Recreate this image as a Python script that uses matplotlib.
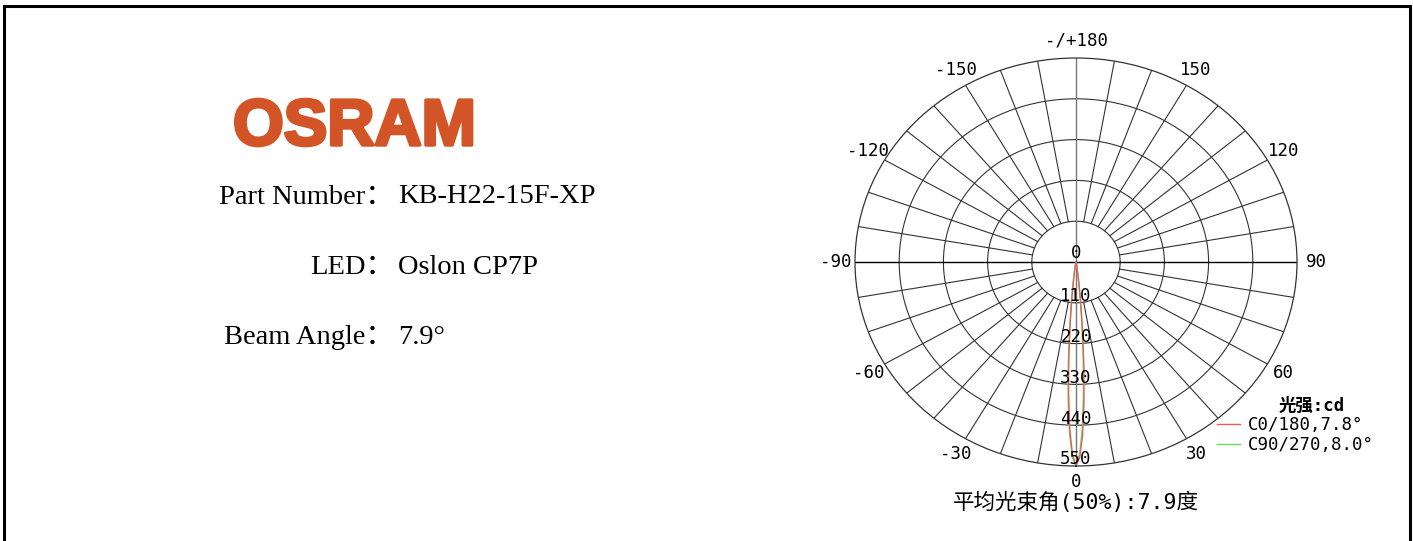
import numpy as np
import matplotlib
matplotlib.use("Agg")
import matplotlib.pyplot as plt
import matplotlib.patheffects as pe
from matplotlib.patches import Rectangle

# polar curve data (angle in degrees, intensity in cd)
angles = [-12, -10, -8, -7, -6, -5, -4, -3, -2, -1, 0,
          1, 2, 3, 4, 5, 6, 7, 8, 10, 12]
c0_180 = [3, 8, 28, 55, 100, 165, 255, 352, 448, 518, 548,
          528, 468, 380, 282, 190, 118, 66, 34, 10, 3]
c90_270 = [3, 10, 34, 64, 114, 182, 276, 374, 462, 526, 550,
           518, 450, 356, 256, 168, 100, 55, 27, 8, 3]

ring_values = [110, 220, 330, 440, 550]
angle_labels = {0: "0", 30: "30", 60: "60", 90: "90", 120: "120", 150: "150",
                180: "-/+180", -30: "-30", -60: "-60", -90: "-90",
                -120: "-120", -150: "-150"}
series_names = ["C0/180,7.8°", "C90/270,8.0°"]
series_colors = ["#e06060", "#66dd55"]
info_labels = ["Part Number：", "LED：", "Beam Angle："]
info_values = ["KB-H22-15F-XP", "Oslon CP7P", "7.9°"]

W, H = 1413, 541
fig = plt.figure(figsize=(W / 100, H / 100), dpi=100)

def fx(px):
    return px / W

def fy(py):
    return 1 - py / H

# frame around the page
fig.patches.append(Rectangle((fx(4), fy(560)), fx(1406), (560 - 6) / H,
                             transform=fig.transFigure, fill=False,
                             edgecolor="black", linewidth=2.2))

# left info block
logo_color = "#d35426"
fig.text(fx(233), fy(128), "OSRAM", color=logo_color, fontsize=47,
         fontweight="bold", family="Liberation Sans", ha="left", va="center",
         path_effects=[pe.withStroke(linewidth=2.5, foreground=logo_color)])
serif = ["Liberation Serif", "Noto Sans CJK SC"]
for i, (lab, val) in enumerate(zip(info_labels, info_values)):
    y = fy(197 + 70 * i)
    fig.text(fx(394), y, lab, fontsize=20.5, family=serif, ha="right", va="center")
    fig.text(fx(398), y, val, fontsize=20.5, family=serif, ha="left", va="center")

# polar plot
mono = ["DejaVu Sans Mono", "Noto Sans CJK SC"]
fs = 12.5
ax = fig.add_axes([fx(855), fy(466), fx(442), 408 / H], projection="polar")
ax.set_aspect("auto")
ax.set_theta_zero_location("S")
ax.set_theta_direction(1)
ax.set_ylim(0, 550)
ax.grid(False)
ax.set_xticks([])
ax.set_yticks([])
ax.spines["polar"].set_linewidth(0.9)
ax.spines["polar"].set_color("#333333")

theta_full = np.linspace(0, 2 * np.pi, 400)
for rv in ring_values[:-1]:
    ax.plot(theta_full, np.full_like(theta_full, rv), color="#333333", lw=0.8)

for deg in range(0, 360, 10):
    t = np.deg2rad(deg)
    if deg in (90, 270):
        ax.plot([t, t], [0, 550], color="black", lw=1.0)
    elif deg in (0, 180):
        ax.plot([t, t], [0, 550], color="#777777", lw=1.0)
    else:
        ax.plot([t, t], [110, 550], color="#333333", lw=0.8)

th = np.deg2rad(angles)
ax.plot(th, c90_270, color=series_colors[1], lw=1.0, label=series_names[1])
ax.plot(th, c0_180, color=series_colors[0], lw=1.0, label=series_names[0])

# radial labels along the 0 axis
ax.text(0, 0, "0", fontsize=fs, family=mono, ha="center", va="bottom")
for rv in ring_values:
    ax.text(0, rv - 18, str(rv), fontsize=fs, family=mono,
            ha="center", va="center")

# angle labels
for deg, lab in angle_labels.items():
    r = 592 if deg == 0 else 597
    ax.text(np.deg2rad(deg), r, lab, fontsize=fs, family=mono,
            ha="center", va="center", clip_on=False)

handles, labels = ax.get_legend_handles_labels()
leg = ax.legend(handles[::-1], labels[::-1], loc="upper left",
                bbox_to_anchor=(fx(1208), fy(388)), bbox_transform=fig.transFigure,
                frameon=False, title="光强:cd", handlelength=1.35,
                handletextpad=0.45, labelspacing=0.1, borderpad=0,
                prop={"family": mono, "size": fs},
                title_fontproperties={"family": mono, "size": fs, "weight": "bold"})
leg._legend_box.align = "center"
leg.get_title().set_position((16, 0))

fig.text(fx(1076), fy(502), "平均光束角(50%):7.9度", fontsize=15.5,
         family=["DejaVu Sans Mono", "Noto Sans CJK SC"], ha="center", va="center")

fig.savefig("out.png", dpi=100)
